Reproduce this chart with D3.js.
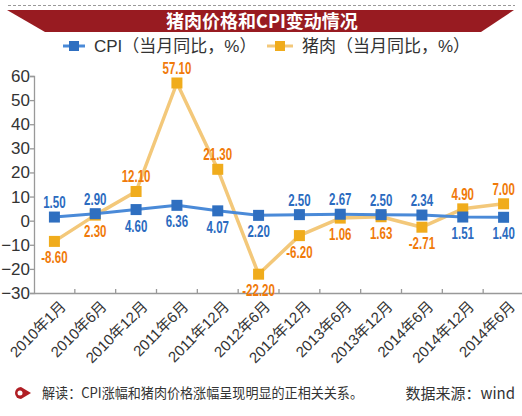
<!DOCTYPE html>
<html>
<head>
<meta charset="utf-8">
<script src="https://d3js.org/d3.v7.min.js"></script>
<style>
body { margin: 0; background: #fff; }
svg { display: block; font-family: "Liberation Sans", Arial, "Noto Sans CJK SC", sans-serif; }
.val { font-family: "Liberation Sans", Arial, sans-serif; font-weight: bold; font-size: 16px; text-anchor: middle; }
</style>
</head>
<body>
<svg id="chart"></svg>
<script>
// data
var months = ["2010年1月","2010年6月","2010年12月","2011年6月","2011年12月","2012年6月",
              "2012年12月","2013年6月","2013年12月","2014年6月","2014年12月","2014年6月 "];
var cpi  = [1.50, 2.90, 4.60, 6.36, 4.07, 2.20, 2.50, 2.67, 2.50, 2.34, 1.51, 1.40];
var pork = [-8.60, 2.30, 12.10, 57.10, 21.30, -22.20, -6.20, 1.06, 1.63, -2.71, 4.90, 7.00];
// label above (1) or below (-1) the point
var cpiPos  = [1, 1, -1, -1, -1, -1, 1, 1, 1, 1, -1, -1];
var porkPos = [-1, -1, 1, 1, 1, -1, -1, -1, -1, -1, 1, 1];
var yTicks = [-30, -20, -10, 0, 10, 20, 30, 40, 50, 60];

var W = 522, H = 416;
var svg = d3.select("#chart").attr("width", W).attr("height", H);

var x = d3.scaleBand().domain(months).range([34, 524]);
var y = d3.scaleLinear().domain([-30, 60]).range([293, 76]);

// header
svg.append("line").attr("x1", 8).attr("x2", 515).attr("y1", 5.5).attr("y2", 5.5)
   .attr("stroke", "#999").attr("stroke-width", 1.2).attr("stroke-dasharray", "3,2");
svg.append("path").attr("d", "M7,10 L514,10 L481,32 L45,32 Z").attr("fill", "#981b21");
svg.append("text").attr("x", 262).attr("y", 28).attr("text-anchor", "middle")
   .attr("fill", "#fff").style("font-family", "'Noto Sans CJK SC', sans-serif")
   .style("font-weight", "bold").style("font-size", "18px").text("猪肉价格和CPI变动情况");

// legend
var legend = [
  {name: "CPI（当月同比，%）", x: 63, w: 22, line: "#4a8ad8", mark: "#2f6fc0"},
  {name: "猪肉（当月同比，%）", x: 267, w: 26, line: "#f3c87a", mark: "#f0ac1c"}
];
legend.forEach(function(l) {
  svg.append("line").attr("x1", l.x).attr("x2", l.x + l.w).attr("y1", 46).attr("y2", 46)
     .attr("stroke", l.line).attr("stroke-width", 3);
  svg.append("rect").attr("x", l.x + l.w / 2 - 5).attr("y", 41).attr("width", 10).attr("height", 10).attr("fill", l.mark);
  svg.append("text").attr("x", l.x + l.w + 9).attr("y", 52).attr("fill", "#333")
     .style("font-family", "'Liberation Sans', 'Noto Sans CJK SC', sans-serif")
     .style("font-size", "17px").text(l.name);
});

// axes
var yAxis = svg.append("g").attr("transform", "translate(34,0)")
  .call(d3.axisLeft(y).tickValues(yTicks).tickSize(4).tickFormat(function(d) { return d < 0 ? "\u2212" + (-d) : d; }));
yAxis.selectAll("text").attr("fill", "#333").style("font-size", "17px").attr("x", -4);

var xAxis = svg.append("g").attr("transform", "translate(0,293)")
  .call(d3.axisBottom(x).tickSize(0).tickFormat(""));
[yAxis, xAxis].forEach(function(a) {
  a.select(".domain").attr("stroke", "#999").attr("stroke-width", 1.3);
  a.selectAll(".tick line").attr("stroke", "#999").attr("stroke-width", 1.3);
});
// boundary ticks pointing up
svg.append("g").selectAll("line").data(months.slice(1)).enter().append("line")
  .attr("x1", function(d) { return x(d); }).attr("x2", function(d) { return x(d); })
  .attr("y1", 293).attr("y2", 289).attr("stroke", "#999").attr("stroke-width", 1.3);
// rotated labels
svg.append("g").selectAll("text").data(months).enter().append("text")
  .attr("transform", function(d) { return "translate(" + (x(d) + x.bandwidth() / 2 + 5) + ",300) rotate(-45)"; })
  .attr("text-anchor", "end").attr("dy", "0.7em").attr("fill", "#333")
  .style("font-family", "'Liberation Sans', 'Noto Sans CJK SC', sans-serif")
  .style("font-size", "15px").text(function(d) { return d.trim(); });

var cx = function(d, i) { return x(months[i]) + x.bandwidth() / 2; };

function drawSeries(vals, pos, lineCol, markCol, labCol, lw) {
  var line = d3.line().x(cx).y(function(d) { return y(d); });
  svg.append("path").datum(vals).attr("d", line).attr("fill", "none")
     .attr("stroke", lineCol).attr("stroke-width", lw).attr("stroke-linejoin", "round");
  svg.append("g").selectAll("rect").data(vals).enter().append("rect")
     .attr("x", function(d, i) { return cx(d, i) - 5.5; })
     .attr("y", function(d) { return y(d) - 5.5; })
     .attr("width", 11).attr("height", 11).attr("fill", markCol);
  return function() {
    // condensed look: squeeze the bold labels horizontally
    svg.append("g").selectAll("text").data(vals).enter().append("text").attr("class", "val")
       .attr("transform", function(d, i) {
         var ty = pos[i] > 0 ? y(d) - 9 : y(d) + 22;
         return "translate(" + cx(d, i) + "," + ty + ") scale(0.72,1)";
       })
       .attr("fill", labCol).text(function(d) { return d.toFixed(2); });
  };
}
var porkLabels = drawSeries(pork, porkPos, "#f3c87a", "#f0ac1c", "#f07a0a", 3.5);
var cpiLabels = drawSeries(cpi, cpiPos, "#4a8ad8", "#2f6fc0", "#2b6bbf", 3);
porkLabels();
cpiLabels();

// footer
svg.append("path").attr("d", "M21,387 A6,6 0 1 0 21,399 L31,393 Z").attr("fill", "#b01e24");
svg.append("circle").attr("cx", 20).attr("cy", 393).attr("r", 2.5).attr("fill", "#fff");
svg.append("text").attr("x", 42).attr("y", 398).attr("fill", "#333")
   .attr("textLength", 321).attr("lengthAdjust", "spacingAndGlyphs")
   .style("font-family", "'Noto Sans CJK SC', sans-serif").style("font-size", "14px")
   .text("解读：CPI涨幅和猪肉价格涨幅呈现明显的正相关关系。");
svg.append("text").attr("x", 515).attr("y", 399).attr("text-anchor", "end").attr("fill", "#333")
   .style("font-family", "'Noto Sans CJK SC', sans-serif").style("font-size", "15px")
   .text("数据来源：wind");
</script>
</body>
</html>
